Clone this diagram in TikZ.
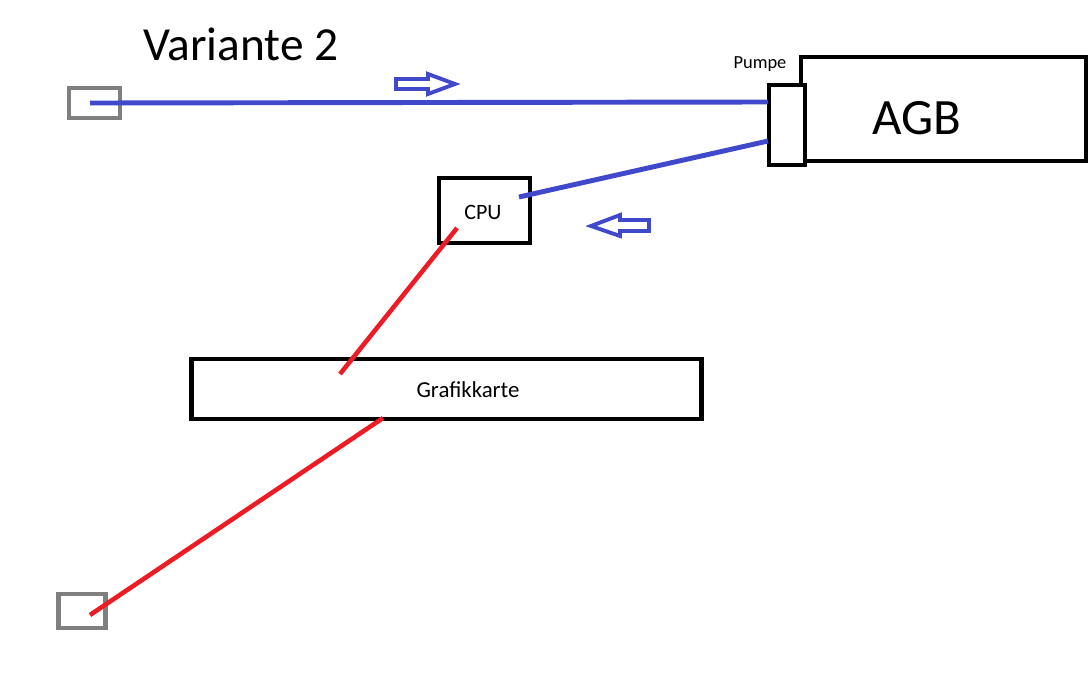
\documentclass[tikz,border=0pt]{standalone}
\usepackage{fontspec}
\setmainfont{Carlito}
\usepackage{tikz}

\definecolor{pipeblue}{RGB}{64,72,204}
\definecolor{pipered}{RGB}{237,28,36}
\definecolor{portgray}{RGB}{127,127,127}

\begin{document}
\begin{tikzpicture}[x=0.02cm,y=-0.02cm,
  part/.style={draw=black,line width=2.7pt,inner sep=0pt},
  port/.style={draw=portgray,line width=2.8pt,inner sep=0pt},
  cold/.style={draw=pipeblue,line width=2.8pt},
  hot/.style={draw=pipered,line width=2.6pt},
  flow/.style={draw=pipeblue,line width=2.2pt,line join=miter}]
\useasboundingbox (0,0) rectangle (1088,676);
\node (title) at (241,44) {\fontsize{27}{30}\selectfont Variante 2};
% Anschluesse
\node[port,minimum width=1.02cm,minimum height=0.6cm] (inport) at (94.5,103) {};
\node[port,minimum width=0.94cm,minimum height=0.68cm] (outport) at (82,611) {};
% AGB mit Pumpe
\node[part,minimum width=5.7cm,minimum height=2.08cm] (agb) at (943.5,109) {};
\node (agblabel) at (917,118) {\fontsize{29}{32}\selectfont AGB};
\node[part,minimum width=0.72cm,minimum height=1.6cm,fill=white] (pumpe) at (787,125) {};
\node (pumpelabel) at (760,64) {\fontsize{10.5}{12}\selectfont Pumpe};
% Kuehler
\node[part,minimum width=1.82cm,minimum height=1.3cm] (cpu) at (484.5,210.5) {};
\node (cpulabel) at (483,212) {\fontsize{12.5}{14}\selectfont CPU};
\node[part,minimum width=10.2cm,minimum height=1.2cm] (gpu) at (446.5,389) {};
\node (gpulabel) at (468,390) {\fontsize{13}{15}\selectfont Grafikkarte};
% Schlauch
\coordinate (in) at (90,103);
\coordinate (pin) at (768,102);
\coordinate (pout) at (768,141);
\coordinate (cpuin) at (519,197);
\coordinate (cpuout) at (457,228);
\coordinate (gpuin) at (340,374);
\coordinate (gpuout) at (383,418);
\coordinate (out) at (90,615);
\draw[cold] (in) -- (pin);
\draw[cold] (pout) -- (cpuin);
\draw[hot] (cpuout) -- (gpuin);
\draw[hot] (gpuout) -- (out);
% Flussrichtung
\draw[flow] (396,79) -- (428,79) -- (428,74) -- (455,84) -- (428,94) -- (428,89) -- (396,89) -- cycle;
\draw[flow] (649,220) -- (620,220) -- (620,215) -- (591,226) -- (620,236) -- (620,231) -- (649,231) -- cycle;
\end{tikzpicture}
\end{document}
